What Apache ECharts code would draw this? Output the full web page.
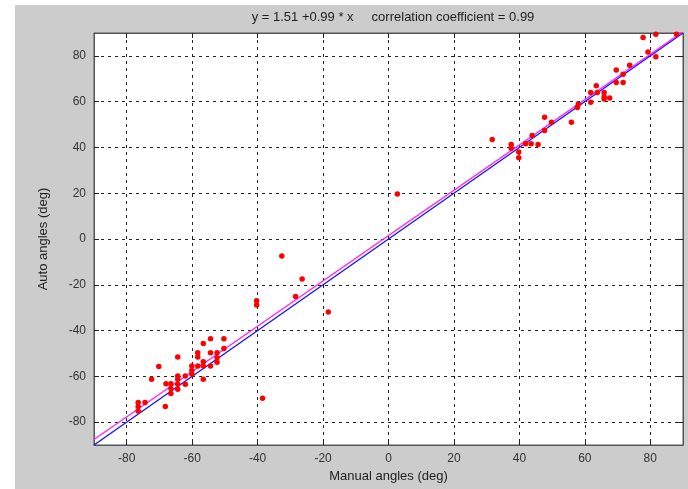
<!DOCTYPE html>
<html>
<head>
<meta charset="utf-8">
<script src="https://cdn.jsdelivr.net/npm/echarts@6/dist/echarts.min.js"></script>
<style>
  html, body { margin: 0; padding: 0; background: #fff; }
  #chart { width: 688px; height: 489px; }
</style>
</head>
<body>
<div id="chart"></div>
<script>
// manual vs automatic angle measurements (deg)
var manualAngles = [
    -76.5, -74.4, -76.5, -76.5, -68.2, -72.4, -70.2, -68, -66.5, -66.5, -66.5,
    -64.4, -64.4, -64.4, -64.4, -64.4, -62.1, -62.1, -60.1, -60.1, -60.1,
    -58.3, -58.3, -58.3, -56.6, -56.6, -56.6, -56.6, -54.4, -54.4, -54.4,
    -52.4, -52.4, -52.4, -50.3, -50.3, -40.3, -40.3, -38.5, -32.6, -28.4,
    -26.4, -18.4, 2.7, 31.7, 37.5, 37.5, 39.8, 39.8, 41.9, 43.6, 45.7, 43.9,
    47.7, 47.7, 49.8, 55.9, 57.7, 58, 61.8, 61.8, 63.8, 65.9, 63.5, 65.9,
    67.6, 65.9, 69.6, 71.7, 71.7, 69.6, 73.7, 79.3, 81.7, 77.8, 81.7, 88
];
var autoAngles = [
    -71.4, -71.4, -73.2, -75.1, -73.2, -61.3, -55.7, -63.2, -63.2, -65.3, -67.5,
    -51.5, -59.9, -61.3, -63.5, -65.6, -59.9, -63.5, -55.5, -57.4, -59.1,
    -49.7, -51.6, -55.5, -45.7, -53.6, -55.5, -61.3, -43.6, -49.7, -55.5,
    -49.7, -51.9, -53.8, -43.6, -47.8, -27, -28.8, -69.6, -7.4, -25.1,
    -17.5, -31.9, 19.7, 43.5, 41.3, 39.7, 38, 35.5, 41.6, 41.6, 41.3, 45.2,
    47.4, 53.2, 51, 51, 57.5, 59, 59.7, 64, 64, 64, 67, 62.2,
    61.6, 61.2, 68.4, 68.4, 72, 73.8, 75.9, 81.7, 79.6, 88, 89.4, 89.4
];

// reference line y = x and fitted line end points
var identityLine = [[-90, -90], [90, 90]];
var fitLine = [[-90, -87.6], [90, 90.6]];

var xTicks = [-80, -60, -40, -20, 0, 20, 40, 60, 80];
var yTicks = [-80, -60, -40, -20, 0, 20, 40, 60, 80];

var titleText = 'y = 1.51 +0.99 * x     correlation coefficient = 0.99';

var font = 'Liberation Sans';
var chart = echarts.init(document.getElementById('chart'));

function frameAxis(pos, ticks, withLabels, name) {
    return {
        type: 'value',
        position: pos,
        min: -90,
        max: 90,
        name: name,
        nameLocation: 'middle',
        nameGap: (pos === 'bottom') ? 25 : 44,
        nameTextStyle: { fontFamily: font, fontSize: 13, color: '#222' },
        axisLine: { show: true, onZero: false, lineStyle: { color: '#555', width: 1 } },
        axisTick: { show: true, inside: true, length: 5, customValues: ticks,
                    lineStyle: { color: '#222', width: 1 } },
        axisLabel: { show: withLabels, customValues: ticks, margin: 8,
                     fontFamily: font, fontSize: 12, color: '#333' },
        splitLine: { show: withLabels,
                     lineStyle: { color: '#222', width: 1, type: [3, 4] } }
    };
}

var points = manualAngles.map((x, i) => [x, autoAngles[i]]);

var option = {
    backgroundColor: '#ffffff',
    animation: false,
    graphic: [{
        type: 'rect',
        left: 15,
        top: 5,
        z: -100,
        shape: { width: 673, height: 484 },
        style: { fill: '#cccccc' }
    }],
    title: {
        text: titleText,
        left: 388,
        top: 6,
        textAlign: 'center',
        textStyle: { fontFamily: font, fontSize: 13, fontWeight: 'normal', color: '#222' }
    },
    grid: {
        left: 94,
        right: 5,
        top: 33,
        bottom: 44,
        show: true,
        backgroundColor: '#ffffff',
        borderColor: '#555',
        borderWidth: 1,
        containLabel: false,
        outerBoundsMode: 'none'
    },
    xAxis: [
        frameAxis('bottom', xTicks, true, 'Manual angles (deg)'),
        frameAxis('top', xTicks, false, '')
    ],
    yAxis: [
        frameAxis('left', yTicks, true, 'Auto angles (deg)'),
        frameAxis('right', yTicks, false, '')
    ],
    series: [
        {
            type: 'line',
            data: identityLine,
            showSymbol: false,
            lineStyle: { color: '#1010ff', width: 1.3 },
            z: 3
        },
        {
            type: 'line',
            data: fitLine,
            showSymbol: false,
            lineStyle: { color: '#ff20ff', width: 1.3 },
            z: 3
        },
        {
            type: 'scatter',
            data: points,
            symbol: 'circle',
            symbolSize: 5.5,
            itemStyle: { color: '#ff0000', opacity: 1 },
            z: 4
        }
    ]
};

chart.setOption(option, true);
</script>
</body>
</html>
